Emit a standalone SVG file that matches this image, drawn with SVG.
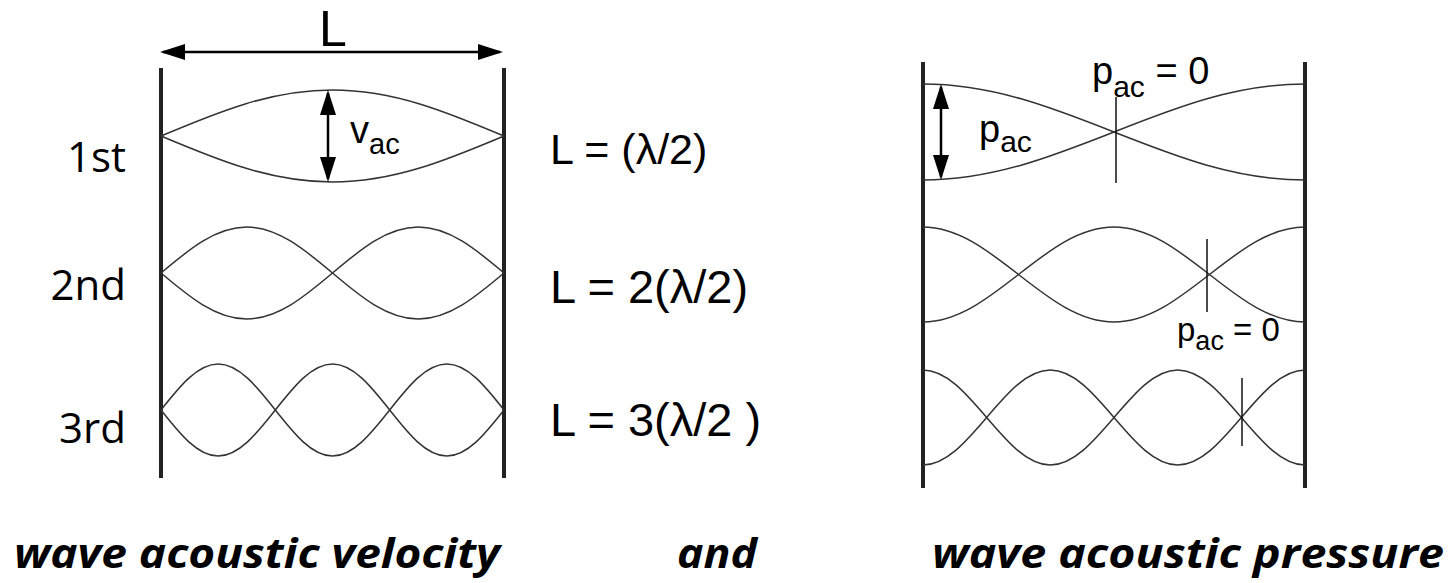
<svg xmlns="http://www.w3.org/2000/svg" width="1451" height="583" viewBox="0 0 1451 583">
<style>
.wall{stroke:#222;stroke-width:4;fill:none}
.wave{stroke:#333;stroke-width:1.5;fill:none}
.tick{stroke:#111;stroke-width:1.5}
.arr{stroke:#000;stroke-width:2.5;fill:none}
.sans{font-family:"Liberation Sans",Arial,sans-serif;fill:#000}
.cal{font-family:"Open Sans","Noto Sans",sans-serif;fill:#000}
.cap{font-family:"Open Sans","Noto Sans",sans-serif;font-weight:bold;font-style:italic;fill:#000;font-size:41px}
</style>
<defs>
<marker id="ah" viewBox="0 0 25 16" markerWidth="25" markerHeight="16" refX="22" refY="8" orient="auto-start-reverse" markerUnits="userSpaceOnUse">
<path d="M0,0 L25,8 L0,16 z" fill="#000"/>
</marker>
</defs>
<rect width="1451" height="583" fill="#fff"/>

<g id="left-tube">
<line class="wall" x1="161" y1="68" x2="161" y2="478"/>
<line class="wall" x1="504" y1="68" x2="504" y2="478"/>
</g>

<g id="left-mode1">
<path class="wave" d="M161,136 c55.93,-23.57 109.43,-46 171.5,-46 s115.57,22.43 171.5,46"/>
<path class="wave" d="M161,136 c55.93,23.57 109.43,46 171.5,46 s115.57,-22.43 171.5,-46"/>
<text class="cal" x="126" y="172" font-size="42" text-anchor="end">1st</text>
<text class="sans" x="550" y="164" font-size="43">L = (λ/2)</text>
<text class="sans" x="350" y="143" font-size="38">v<tspan font-size="29" dy="11">ac</tspan></text>
</g>

<g id="left-mode2">
<path class="wave" d="M161,273 c27.96,-23.57 54.72,-46 85.75,-46 s57.79,22.43 85.75,46 s54.72,46 85.75,46 s57.79,-22.43 85.75,-46"/>
<path class="wave" d="M161,273 c27.96,23.57 54.72,46 85.75,46 s57.79,-22.43 85.75,-46 s54.72,-46 85.75,-46 s57.79,22.43 85.75,46"/>
<text class="cal" x="126" y="300" font-size="42" text-anchor="end">2nd</text>
<text class="sans" x="550" y="303" font-size="47">L = 2(λ/2)</text>
</g>

<g id="left-mode3">
<path class="wave" d="M161,410 c18.64,-23.57 36.48,-46 57.17,-46 s38.53,22.43 57.17,46 s36.48,46 57.17,46 s38.53,-22.43 57.17,-46 s36.48,-46 57.17,-46 s38.53,22.43 57.17,46"/>
<path class="wave" d="M161,410 c18.64,23.57 36.48,46 57.17,46 s38.53,-22.43 57.17,-46 s36.48,-46 57.17,-46 s38.53,22.43 57.17,46 s36.48,46 57.17,46 s38.53,-22.43 57.17,-46"/>
<text class="cal" x="126" y="443" font-size="42" text-anchor="end">3rd</text>
<text class="sans" x="550" y="436" font-size="47">L = 3(λ/2 )</text>
</g>

<g id="length-label">
<text class="sans" x="333" y="46" font-size="50" text-anchor="middle">L</text>
</g>

<g id="right-tube">
<line class="wall" x1="923" y1="62" x2="923" y2="488"/>
<line class="wall" x1="1305" y1="62" x2="1305" y2="488"/>
</g>

<g id="right-mode1">
<path class="wave" d="M923,84 c69.12,0 128.71,23.41 191,48 s121.88,48 191,48"/>
<path class="wave" d="M923,180 c69.12,0 128.71,-23.41 191,-48 s121.88,-48 191,-48"/>
<line class="tick" x1="1116" y1="97" x2="1116" y2="183"/>
<text class="sans" x="1092" y="84" font-size="38">p<tspan font-size="30" dy="13">ac</tspan><tspan dy="-13"> = 0</tspan></text>
<text class="sans" x="979" y="142" font-size="38">p<tspan font-size="30" dy="10">ac</tspan></text>
</g>

<g id="right-mode2">
<path class="wave" d="M923,227 c34.56,0 64.36,23.17 95.5,47.5 s60.94,47.5 95.5,47.5 s64.36,-23.17 95.5,-47.5 s60.94,-47.5 95.5,-47.5"/>
<path class="wave" d="M923,322 c34.56,0 64.36,-23.17 95.5,-47.5 s60.94,-47.5 95.5,-47.5 s64.36,23.17 95.5,47.5 s60.94,47.5 95.5,47.5"/>
<line class="tick" x1="1207" y1="239" x2="1207" y2="312"/>
<text class="sans" x="1177" y="341" font-size="33">p<tspan font-size="27" dy="9">ac</tspan><tspan dy="-9"> = 0</tspan></text>
</g>

<g id="right-mode3">
<path class="wave" d="M923,370 c23.04,0 42.9,23.17 63.67,47.5 s40.63,47.5 63.67,47.5 s42.9,-23.17 63.67,-47.5 s40.63,-47.5 63.67,-47.5 s42.9,23.17 63.67,47.5 s40.63,47.5 63.67,47.5"/>
<path class="wave" d="M923,465 c23.04,0 42.9,-23.17 63.67,-47.5 s40.63,-47.5 63.67,-47.5 s42.9,23.17 63.67,47.5 s40.63,47.5 63.67,47.5 s42.9,-23.17 63.67,-47.5 s40.63,-47.5 63.67,-47.5"/>
<line class="tick" x1="1242" y1="378" x2="1242" y2="446"/>
</g>

<g id="connectors">
<line class="arr" x1="163" y1="52" x2="500" y2="52" marker-start="url(#ah)" marker-end="url(#ah)"/>
<line class="arr" x1="328" y1="93" x2="328" y2="179" marker-start="url(#ah)" marker-end="url(#ah)"/>
<line class="arr" x1="941" y1="87" x2="941" y2="177" marker-start="url(#ah)" marker-end="url(#ah)"/>
</g>

<g id="captions">
<text class="cap" x="14" y="568" textLength="486" lengthAdjust="spacingAndGlyphs">wave acoustic velocity</text>
<text class="cap" x="677" y="568" textLength="80" lengthAdjust="spacingAndGlyphs">and</text>
<text class="cap" x="932" y="568" textLength="512" lengthAdjust="spacingAndGlyphs">wave acoustic pressure</text>
</g>
</svg>
